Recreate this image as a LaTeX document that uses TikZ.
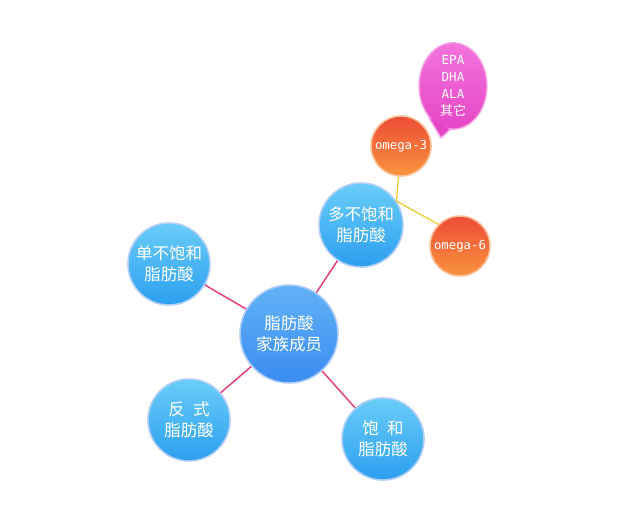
\documentclass[tikz,border=0pt]{standalone}
\usepackage{fontspec}
\newfontfamily\cjk{Noto Sans CJK SC}
\newfontfamily\latinmono{DejaVu Sans Mono}
\usetikzlibrary{shapes.geometric}

\definecolor{rimblue}{HTML}{AFCDF6}
\definecolor{cyantop}{HTML}{6ACDF8}
\definecolor{cyanbot}{HTML}{2C9FEF}
\definecolor{hubtop}{HTML}{62B2F7}
\definecolor{hubbot}{HTML}{3A8CF0}
\definecolor{rimpeach}{HTML}{F9C49C}
\definecolor{omegatop}{HTML}{EE4C36}
\definecolor{omegabot}{HTML}{F8943E}
\definecolor{rimpink}{HTML}{F7A6E6}
\definecolor{pinktop}{HTML}{F274DC}
\definecolor{pinkbot}{HTML}{E646C6}
\definecolor{linkpink}{HTML}{E2407E}
\definecolor{linkyellow}{HTML}{F2C834}

\tikzset{
  bluebubble/.style={shape=circle,draw=rimblue,line width=1.6pt,top color=cyantop,bottom color=cyanbot,
    text=white,align=center,inner sep=0pt,minimum size=82pt,font=\cjk\fontsize{16.5}{21}\selectfont},
  hubbubble/.style={bluebubble,minimum size=98pt,top color=hubtop,bottom color=hubbot},
  omegabubble/.style={shape=circle,draw=rimpeach,line width=1.6pt,top color=omegatop,bottom color=omegabot,
    text=white,inner sep=0pt,minimum size=60pt,font=\latinmono\fontsize{12.3}{14}\selectfont},
  calloutbubble/.style={shape=ellipse,draw=rimpink,line width=1.4pt,top color=pinktop,bottom color=pinkbot,
    text=white,align=center,inner sep=0pt,minimum width=68pt,minimum height=86pt,
    font=\latinmono\fontsize{12.5}{17}\selectfont},
  familylink/.style={draw=linkpink,line width=1.5pt},
  omegalink/.style={draw=linkyellow,line width=1.3pt},
}

\begin{document}
\begin{tikzpicture}[x=1pt,y=-1pt]
\useasboundingbox (0,0) rectangle (640,522);

% fatty acid family
\node[hubbubble] (hub) at (289,334) {脂肪酸\\家族成员};
\node[bluebubble] (mono) at (169,264) {单不饱和\\脂肪酸};
\node[bluebubble,minimum size=84pt] (poly) at (361,225) {多不饱和\\脂肪酸};
\node[bluebubble] (trans) at (189,420) {反\hspace{.5em}式\\脂肪酸};
\node[bluebubble] (sat) at (383,439) {饱\hspace{.5em}和\\脂肪酸};

\draw[familylink] (hub) -- (mono);
\draw[familylink] (hub) -- (poly);
\draw[familylink] (hub) -- (trans);
\draw[familylink] (hub) -- (sat);

% omega branches
\node[omegabubble] (o3) at (401,146) {omega-3};
\node[omegabubble] (o6) at (460,246) {omega-6};

\draw[omegalink] (poly.34) -- (o3);
\draw[omegalink] (poly.34) -- (o6.135);

% callout
\node[calloutbubble] (callout) at (453,86) {EPA\\DHA\\ALA\\{\cjk\fontsize{13}{17}\selectfont 其它}};
\coordinate (tip) at (441,138);
\fill[pinkbot] (callout.232) -- (tip) -- (callout.266) -- cycle;
\draw[rimpink,line width=1.4pt,line join=round] (callout.232) -- (tip) -- (callout.266);

\end{tikzpicture}
\end{document}
